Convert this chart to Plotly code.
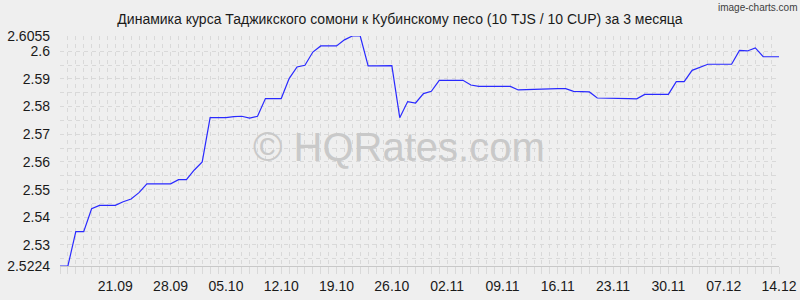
import pandas as pd
import plotly.graph_objects as go

# Daily rate, 10 TJS in CUP, 14.09 .. 14.12
start_date = "2023-09-14"
end_date = "2023-12-14"
rates = [
    2.5224, 2.5224, 2.5348, 2.5348, 2.5431, 2.5443, 2.5443, 2.5443, 2.5456, 2.5466,
    2.5489, 2.5521, 2.5521, 2.5521, 2.5521, 2.5536, 2.5536, 2.5571, 2.5600, 2.5760,
    2.5760, 2.5760, 2.5764, 2.5765, 2.5758, 2.5765, 2.5829, 2.5829, 2.5829, 2.5901,
    2.5943, 2.5949, 2.5997, 2.6019, 2.6019, 2.6019, 2.6041, 2.6055, 2.6055, 2.5947,
    2.5947, 2.5947, 2.5948, 2.5760, 2.5818, 2.5813, 2.5847, 2.5855, 2.5895, 2.5895,
    2.5895, 2.5895, 2.5878, 2.5873, 2.5873, 2.5873, 2.5873, 2.5873, 2.5860, 2.5861,
    2.5864, 2.5865, 2.5865, 2.5865, 2.5865, 2.5855, 2.5854, 2.5853, 2.5831, 2.5831,
    2.5830, 2.5830, 2.5829, 2.5828, 2.5844, 2.5844, 2.5844, 2.5844, 2.5890, 2.5890,
    2.5931, 2.5943, 2.5953, 2.5953, 2.5953, 2.5953, 2.6003, 2.6001, 2.6012, 2.5980,
    2.5980, 2.5980,
]
x_tick_dates = ["2023-09-21", "2023-09-28", "2023-10-05", "2023-10-12", "2023-10-19",
                "2023-10-26", "2023-11-02", "2023-11-09", "2023-11-16", "2023-11-23",
                "2023-11-30", "2023-12-07", "2023-12-14"]
x_tick_labels = ["21.09", "28.09", "05.10", "12.10", "19.10", "26.10", "02.11",
                 "09.11", "16.11", "23.11", "30.11", "07.12", "14.12"]
y_tick_vals = [2.5224, 2.53, 2.54, 2.55, 2.56, 2.57, 2.58, 2.59, 2.6, 2.6055]
y_tick_labels = ["2.5224", "2.53", "2.54", "2.55", "2.56", "2.57", "2.58", "2.59", "2.6", "2.6055"]
y_grid_vals = [2.525, 2.53, 2.535, 2.54, 2.545, 2.55, 2.555, 2.56, 2.565, 2.57,
               2.575, 2.58, 2.585, 2.59, 2.595, 2.6, 2.6055]

title_text = "Динамика курса Таджикского сомони к Кубинскому песо (10 TJS / 10 CUP) за 3 месяца"

dates = pd.date_range(start_date, end_date, freq="D")
BG = "#efefef"
GRID = "#d9d9d9"
DASH = "4px,4px"
FONT = "Liberation Sans, Arial, sans-serif"

fig = go.Figure()
fig.add_trace(go.Scatter(x=dates, y=rates, mode="lines",
                         line=dict(color="#2a2aff", width=1.2), hoverinfo="skip"))

fig.update_layout(
    width=800, height=300,
    margin=dict(l=60, r=21, t=36, b=34, autoexpand=False),
    paper_bgcolor=BG, plot_bgcolor=BG,
    showlegend=False,
    font=dict(family=FONT, size=14, color="#1a1a1a"),
    title=dict(text=title_text, x=0.5, xref="container", xanchor="center",
               y=1 - 19.5 / 300, yanchor="middle", font=dict(size=14, color="#1a1a1a")),
)
fig.update_xaxes(
    automargin=False,
    range=[dates[0], dates[-1]],
    tickmode="array", tickvals=x_tick_dates, ticktext=x_tick_labels,
    showgrid=True, gridcolor=GRID, griddash=DASH, gridwidth=1,
    ticks="outside", ticklen=7, tickcolor=GRID,
    minor=dict(tickmode="array", tickvals=list(dates), showgrid=True, gridcolor=GRID,
               griddash=DASH, ticks="outside", ticklen=7, tickcolor=GRID),
    showline=True, linecolor="#c8c8c8", linewidth=1,
    zeroline=False, tickfont=dict(size=14),
)
fig.update_yaxes(
    automargin=False,
    range=[y_tick_vals[0], y_tick_vals[-1]],
    tickmode="array", tickvals=y_tick_vals, ticktext=y_tick_labels,
    showgrid=True, gridcolor=GRID, griddash=DASH, gridwidth=1,
    minor=dict(tickmode="array", tickvals=y_grid_vals, showgrid=True, gridcolor=GRID,
               griddash=DASH),
    ticks="", ticklabelstandoff=9,
    showline=False, zeroline=False, tickfont=dict(size=14),
)
fig.add_annotation(text="© HQRates.com", xref="paper", yref="paper",
                   x=(399 - 60) / 719, y=(266 - 147) / 230, xanchor="center", yanchor="middle",
                   showarrow=False, font=dict(family=FONT, size=40, color="#c9c9c9"))
fig.add_annotation(text="image-charts.com", xref="paper", yref="paper",
                   x=1 + 20 / 719, y=1 + 29 / 230, xanchor="right", yanchor="middle",
                   showarrow=False, font=dict(family=FONT, size=10, color="#404040"))

fig.write_html("out.html")
